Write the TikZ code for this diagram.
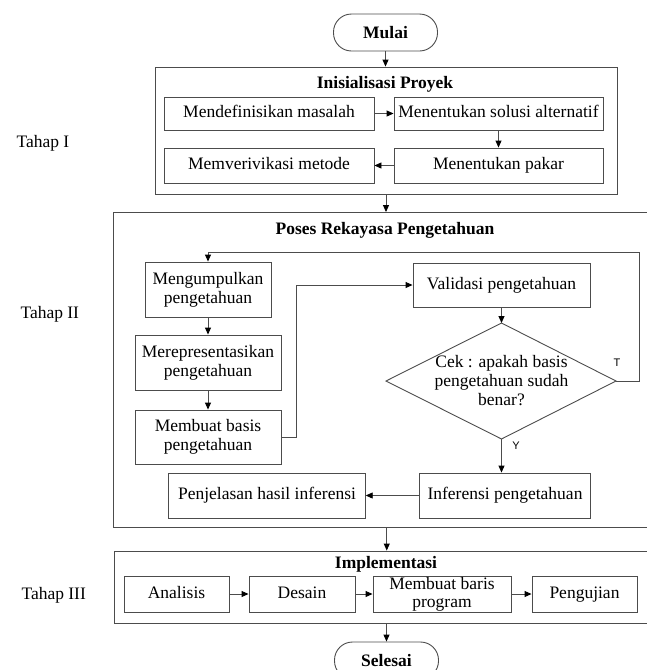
\documentclass[tikz,border=0pt]{standalone}
\usepackage{fontspec}
\setmainfont{Liberation Serif}
\newfontfamily\labelfont{Liberation Sans}
\usetikzlibrary{arrows.meta,positioning,calc}

\begin{document}
\begin{tikzpicture}[x=1pt, y=-1pt,
    every node/.style={font=\fontsize{17.5}{19}\selectfont},
    box/.style={draw=black!70, line width=0.9pt, align=center, inner sep=0pt},
    onebox/.style={box, text height=12pt, text depth=4pt},
    frame/.style={draw=black!70, line width=0.9pt, inner sep=0pt},
    term/.style={draw=black!70, line width=0.9pt, rounded corners=18pt, inner sep=0pt,
        minimum width=104pt, minimum height=37pt, font=\fontsize{17.5}{19}\selectfont\bfseries},
    title/.style={font=\fontsize{17.5}{19}\selectfont\bfseries},
    outline/.style={draw=black!70, line width=0.9pt},
    flow/.style={outline, -{Triangle[length=7pt,width=6pt,color=black]}},
    yn/.style={font=\labelfont\fontsize{11}{13}\selectfont}]
    \useasboundingbox (0,0) rectangle (647,670);
    \clip (0,0) rectangle (647,670);

    % stages
    \node[anchor=west] (tahap1) at (13,143) {Tahap I};
    \node[anchor=west] (tahap2) at (17,314) {Tahap II};
    \node[anchor=west] (tahap3) at (18,595) {Tahap III};

    \node[term] (mulai) at (385.5,32.5) {Mulai};

    % Tahap I
    \node[frame, minimum width=462pt, minimum height=127pt] (init) at (386,130.5) {};
    \node[title] (inittitle) at (385,84) {Inisialisasi Proyek};
    \node[onebox, minimum width=210pt, minimum height=33pt] (masalah) at (269,113.5) {Mendefinisikan masalah};
    \node[onebox, minimum width=209pt, minimum height=33pt] (solusi) at (498.5,113.5) {Menentukan solusi alternatif};
    \node[onebox, minimum width=209pt, minimum height=35pt] (pakar) at (498.5,165.5) {Menentukan pakar};
    \node[onebox, minimum width=210pt, minimum height=35pt] (metode) at (269,165.5) {Memverivikasi metode};

    \draw[flow] (masalah) -- (solusi);
    \draw[flow] (solusi) -- (pakar);
    \draw[flow] (pakar) -- (metode);

    % Tahap II
    \node[frame, minimum width=546.5pt, minimum height=314.5pt] (rekayasa) at (386.75,369.75) {};
    \node[title] (rekayasatitle) at (385,230) {Poses Rekayasa Pengetahuan};
    \node[box, minimum width=126pt, minimum height=55pt] (kumpul) at (208,289.5) {Mengumpulkan\\pengetahuan};
    \node[box, minimum width=146pt, minimum height=55pt] (represent) at (208,362.5) {Merepresentasikan\\pengetahuan};
    \node[box, minimum width=146pt, minimum height=54pt] (basis) at (208,437) {Membuat basis\\pengetahuan};
    \node[onebox, minimum width=177pt, minimum height=44pt] (validasi) at (501.5,285) {Validasi pengetahuan};
    \coordinate (cekT) at (501.5,323);
    \coordinate (cekR) at (616,381);
    \coordinate (cekB) at (501.5,439);
    \coordinate (cekL) at (386,381);
    \draw[outline] (cekT) -- (cekR) -- (cekB) -- (cekL) -- cycle;
    \node[align=center] (cek) at (501.5,381) {Cek : apakah basis\\pengetahuan sudah\\benar?};
    \node[onebox, minimum width=171.5pt, minimum height=45pt] (inferensi) at (505,495.5) {Inferensi pengetahuan};
    \node[onebox, minimum width=196.5pt, minimum height=45pt] (penjelasan) at (267,495.5) {Penjelasan hasil inferensi};
    \node[yn] (ya) at (516,446) {Y};
    \node[yn] (tidak) at (617,363) {T};

    \draw[flow] (kumpul) -- (represent);
    \draw[flow] (represent) -- (basis);
    \draw[flow] (basis.east) -- ++(15,0) |- (validasi.west);
    \draw[flow] (validasi.south) -- (cekT);
    \draw[flow] (cekR) -- ++(23,0) |- ([yshift=9pt]kumpul.north) -- (kumpul.north);
    \draw[flow] (cekB) -- (cekB |- inferensi.north);
    \draw[flow] (inferensi) -- (penjelasan);

    % Tahap III
    \node[frame, minimum width=546pt, minimum height=72pt] (impl) at (387,587) {};
    \node[title] (impltitle) at (386,564) {Implementasi};
    \node[onebox, minimum width=105pt, minimum height=36pt] (analisis) at (176.5,594) {Analisis};
    \node[onebox, minimum width=106pt, minimum height=36pt] (desain) at (302,594) {Desain};
    \node[box, minimum width=138pt, minimum height=36pt, font=\fontsize{17.5}{18}\selectfont] (program) at (442,594) {Membuat baris\\program};
    \node[onebox, minimum width=105pt, minimum height=36pt] (uji) at (584.5,594) {Pengujian};

    \draw[flow] (analisis) -- (desain);
    \draw[flow] (desain) -- (program);
    \draw[flow] (program) -- (uji);

    \node[term] (selesai) at (386.5,660.5) {Selesai};

    \draw[flow] (mulai.south) -- (mulai.south |- init.north);
    \draw[flow] (init.south) -- (init.south |- rekayasa.north);
    \draw[flow] (rekayasa.south) -- (rekayasa.south |- impl.north);
    \draw[flow] (selesai.north |- impl.south) -- (selesai.north);
\end{tikzpicture}
\end{document}
